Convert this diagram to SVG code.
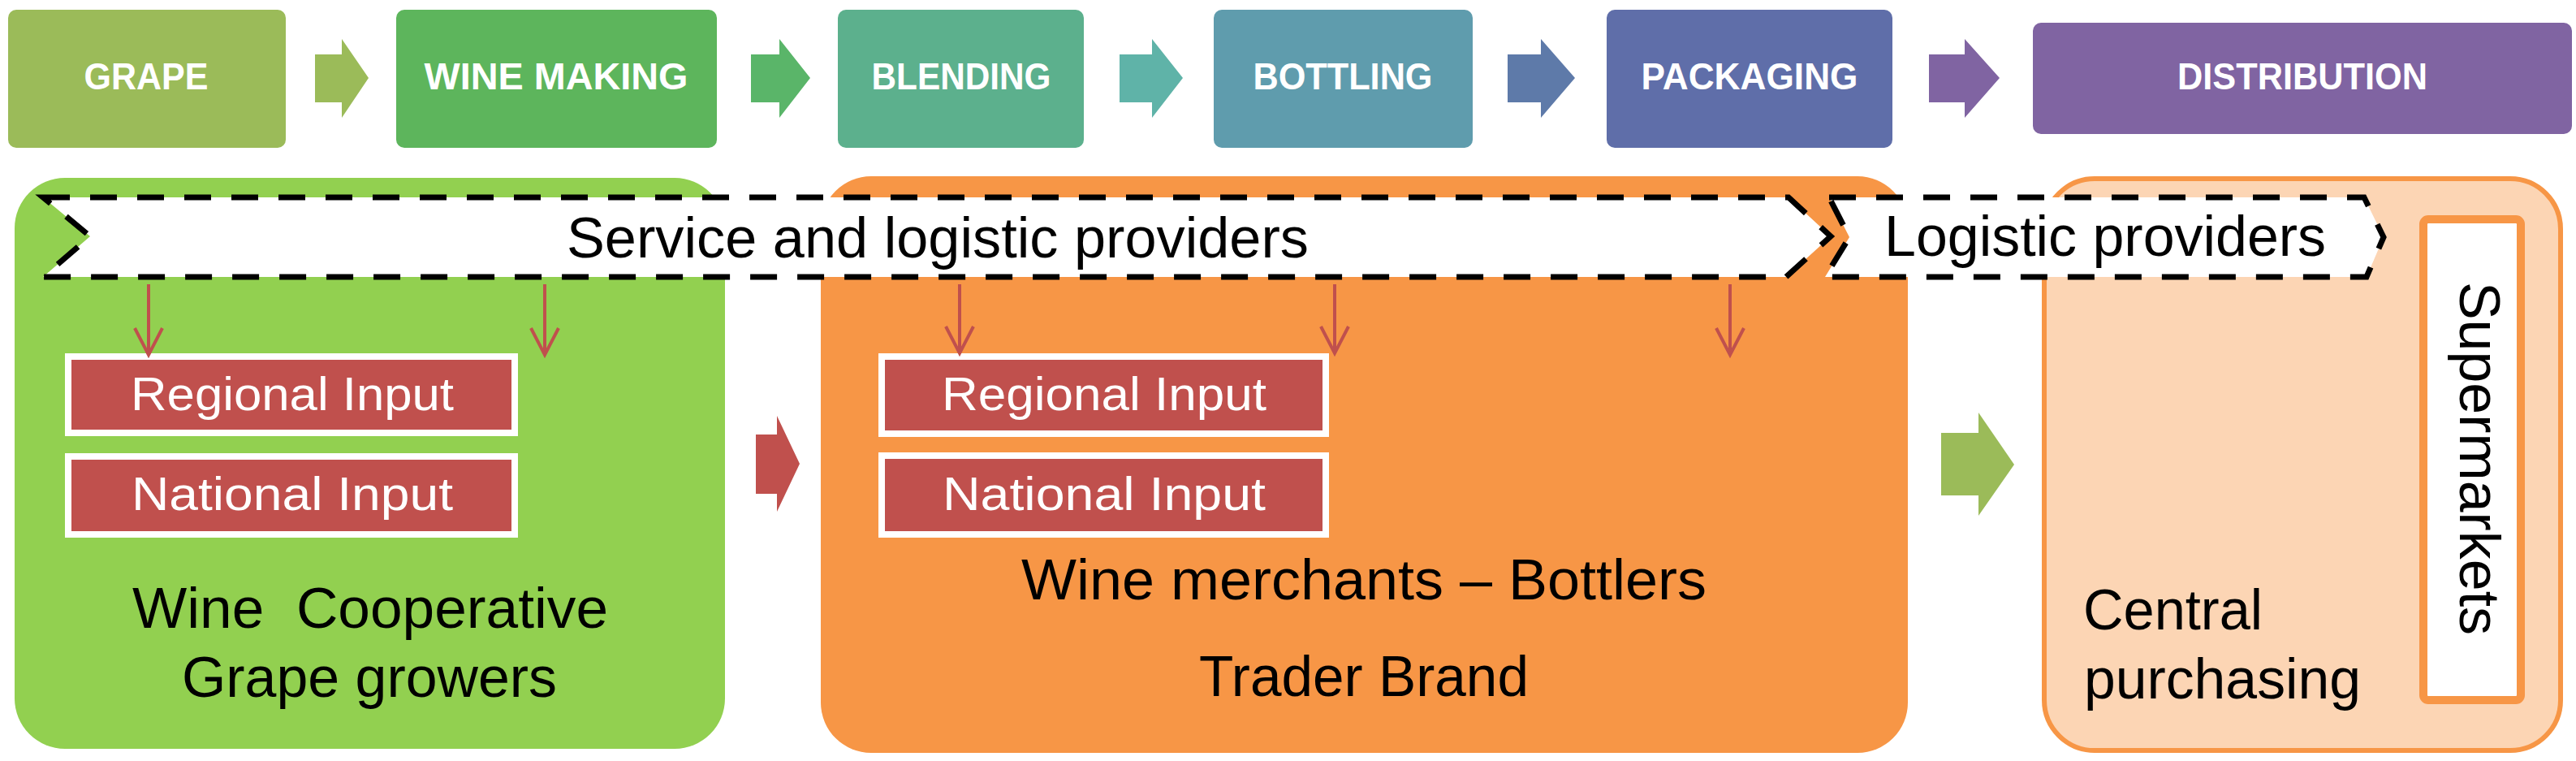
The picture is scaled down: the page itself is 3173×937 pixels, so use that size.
<svg xmlns="http://www.w3.org/2000/svg" width="3173" height="937" viewBox="0 0 3173 937">
<style>
.step{font-family:"Liberation Sans",Arial,sans-serif;font-weight:bold;font-size:46px;fill:#fff;text-anchor:middle}
.lbl{font-family:"Liberation Sans",Arial,sans-serif;font-size:70px;fill:#000}
.inp{font-family:"Liberation Sans",Arial,sans-serif;font-size:58px;fill:#fff;text-anchor:middle}
.inbox{fill:#C0504D;stroke:#fff;stroke-width:8}
.banner{fill:#fff;stroke:#000;stroke-width:7;stroke-dasharray:33 25}
.red{stroke:#C0504D;stroke-width:4;fill:none;marker-end:url(#vhead)}
</style>
<defs>
<marker id="vhead" markerUnits="userSpaceOnUse" viewBox="-40 -22 46 44" refX="0" refY="0" markerWidth="46" markerHeight="44" orient="auto" overflow="visible">
<path d="M-33,-17 L0,0 L-33,17" fill="none" stroke="#C0504D" stroke-width="4"/>
</marker>
</defs>
<rect width="3173" height="937" fill="#fff"/>

<g id="step-grape"><rect x="10" y="12" width="342" height="170" rx="10" fill="#9BBB59"/><text class="step" x="180" y="110" textLength="153" lengthAdjust="spacingAndGlyphs">GRAPE</text></g>
<g id="step-winemaking"><rect x="488" y="12" width="395" height="170" rx="10" fill="#5DB55C"/><text class="step" x="685" y="110" textLength="325" lengthAdjust="spacingAndGlyphs">WINE MAKING</text></g>
<g id="step-blending"><rect x="1032" y="12" width="303" height="170" rx="10" fill="#5CB08D"/><text class="step" x="1184" y="110" textLength="221" lengthAdjust="spacingAndGlyphs">BLENDING</text></g>
<g id="step-bottling"><rect x="1495" y="12" width="319" height="170" rx="10" fill="#5F9CAD"/><text class="step" x="1654" y="110" textLength="221" lengthAdjust="spacingAndGlyphs">BOTTLING</text></g>
<g id="step-packaging"><rect x="1979" y="12" width="352" height="170" rx="10" fill="#5F6EA9"/><text class="step" x="2155" y="110" textLength="267" lengthAdjust="spacingAndGlyphs">PACKAGING</text></g>
<g id="step-distribution"><rect x="2504" y="28" width="664" height="137" rx="10" fill="#8064A2"/><text class="step" x="2836" y="110" textLength="308" lengthAdjust="spacingAndGlyphs">DISTRIBUTION</text></g>

<g id="panel-cooperative">
<rect x="18" y="219" width="875" height="703" rx="62" fill="#92D050"/>
</g>
<g id="panel-merchants">
<rect x="1011" y="217" width="1339" height="710" rx="62" fill="#F79646"/>
</g>
<g id="panel-distribution">
<rect x="2518" y="220" width="636" height="704" rx="62" fill="#FCD5B4" stroke="#F79646" stroke-width="6"/>
</g>

<g id="banner-service">
<polygon class="banner" points="53,243 2203,243 2255,291 2200,341 53,341 111,291"/>
<text class="lbl" x="698" y="317" textLength="914" lengthAdjust="spacingAndGlyphs">Service and logistic providers</text>
</g>
<g id="banner-logistic">
<polygon class="banner" points="2253,243 2912,243 2936,292 2915,341 2248,341 2278,292"/>
<text class="lbl" x="2321" y="315" textLength="544" lengthAdjust="spacingAndGlyphs">Logistic providers</text>
</g>

<g id="coop-regional"><rect class="inbox" x="84" y="439" width="550" height="94"/><text class="inp" x="360" y="505" textLength="398" lengthAdjust="spacingAndGlyphs">Regional Input</text></g>
<g id="coop-national"><rect class="inbox" x="84" y="562" width="550" height="96"/><text class="inp" x="360" y="628" textLength="396" lengthAdjust="spacingAndGlyphs">National Input</text></g>
<g id="merch-regional"><rect class="inbox" x="1086" y="439" width="547" height="95"/><text class="inp" x="1360" y="505" textLength="400" lengthAdjust="spacingAndGlyphs">Regional Input</text></g>
<g id="merch-national"><rect class="inbox" x="1086" y="561" width="547" height="97"/><text class="inp" x="1360" y="628" textLength="398" lengthAdjust="spacingAndGlyphs">National Input</text></g>

<g id="coop-label">
<text class="lbl" x="456" y="773" text-anchor="middle" xml:space="preserve" textLength="586" lengthAdjust="spacingAndGlyphs">Wine  Cooperative</text>
<text class="lbl" x="455" y="858" text-anchor="middle" textLength="462" lengthAdjust="spacingAndGlyphs">Grape growers</text>
</g>
<g id="merch-label">
<text class="lbl" x="1680" y="738" text-anchor="middle" textLength="844" lengthAdjust="spacingAndGlyphs">Wine merchants – Bottlers</text>
<text class="lbl" x="1680" y="857" text-anchor="middle" textLength="406" lengthAdjust="spacingAndGlyphs">Trader Brand</text>
</g>
<g id="central-label">
<text class="lbl" x="2566" y="775" textLength="221" lengthAdjust="spacingAndGlyphs">Central</text>
<text class="lbl" x="2567" y="860" textLength="341" lengthAdjust="spacingAndGlyphs">purchasing</text>
</g>
<g id="supermarkets">
<rect x="2985" y="270" width="120" height="592" rx="6" fill="#fff" stroke="#F79646" stroke-width="10"/>
<text class="lbl" transform="translate(3030,347) rotate(90)" x="0" y="0" textLength="435" lengthAdjust="spacingAndGlyphs">Supermarkets</text>
</g>

<g id="connectors">
<polygon points="388,67 421,67 421,48 454,96 421,145 421,126 388,126" fill="#9BBB59"/>
<polygon points="925,67 960,67 960,48 998,96 960,145 960,126 925,126" fill="#5AB569"/>
<polygon points="1379,67 1419,67 1419,48 1457,96 1419,145 1419,126 1379,126" fill="#5FB3A8"/>
<polygon points="1857,67 1898,67 1898,48 1940,96 1898,145 1898,126 1857,126" fill="#5E7AA9"/>
<polygon points="2376,67 2420,67 2420,48 2463,96 2420,145 2420,126 2376,126" fill="#8064A2"/>
<polygon points="931,535 957,535 957,512 985,571 957,630 957,608 931,608" fill="#C0504D"/>
<polygon points="2391,533 2437,533 2437,508 2481,572 2437,635 2437,610 2391,610" fill="#9BBB59"/>
<line class="red" x1="183" y1="350" x2="183" y2="437"/>
<line class="red" x1="671" y1="350" x2="671" y2="437"/>
<line class="red" x1="1182" y1="350" x2="1182" y2="435"/>
<line class="red" x1="1644" y1="350" x2="1644" y2="435"/>
<line class="red" x1="2131" y1="350" x2="2131" y2="437"/>
</g>
</svg>
